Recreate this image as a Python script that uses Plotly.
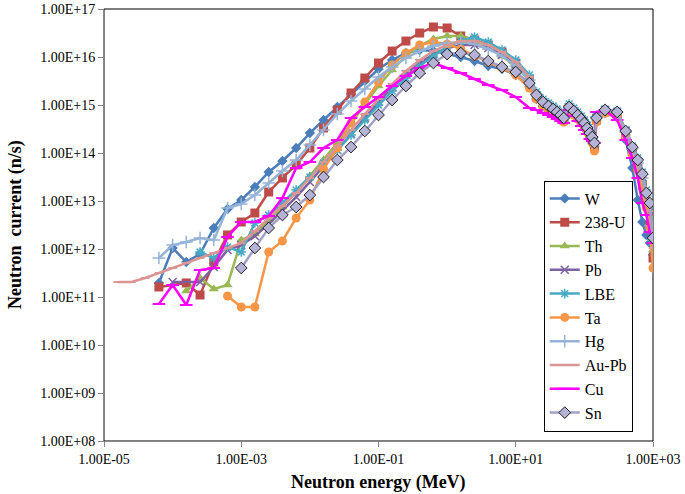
import plotly.graph_objects as go

# Neutron energy grid (MeV)
energy_MeV = [1.58e-5, 2.51e-5, 3.98e-5, 6.31e-5, 1.0e-4, 1.58e-4, 2.51e-4, 3.98e-4, 6.31e-4,
              1.0e-3, 1.58e-3, 2.51e-3, 3.98e-3, 6.31e-3, 1.0e-2, 1.58e-2, 2.51e-2, 3.98e-2,
              6.31e-2, 0.1, 0.158, 0.251, 0.398, 0.631, 1.0, 1.58, 2.51, 3.98, 6.31, 10.0, 15.8,
              20, 25, 30, 35, 40, 45, 50,
              60, 70, 80, 90, 100, 110, 120, 130, 140, 150,
              200, 300, 400, 500, 600, 700, 800, 900, 1000]

N = None
W = [N, N, N, 1.96e11, 1.05e12, 5.36e11, 7.87e11, 2.74e12, 6.81e12, 1.05e13, 1.96e13, 4.02e13,
     6.81e13, 1.27e14, 2.61e14, 4.87e14, 9.09e14, 1.70e15, 3.16e15, 5.62e15, 8.66e15, 1.21e16,
     1.40e16, 1.33e16, 1.15e16, 1.0e16, 8.25e15, 6.49e15, 5.62e15, 4.22e15, 2.37e15,
     1.33e15, 9.53e14, 8.25e14, 7.15e14, 6.19e14, 5.36e14, 4.64e14,
     7.87e14, 6.49e14, 5.36e14, 4.42e14, 3.65e14, 2.87e14, 2.26e14, 1.87e14, 1.40e14, 4.64e14,
     6.81e14, 5.62e14, 1.87e14, 4.87e13, 1.05e13, 3.65e12, 1.96e12, 1.33e12, 7.50e11]

U238 = [N, N, N, 1.62e11, N, 1.96e11, 1.10e11, 5.36e11, 1.96e12, 3.65e12, 5.62e12, 1.54e13,
        3.02e13, 5.62e13, 1.27e14, 3.32e14, 7.87e14, 1.78e15, 3.65e15, 7.50e15, 1.33e16, 2.15e16,
        3.16e16, 4.22e16, 4.02e16, 2.74e16, 2.26e16, 1.78e16, 1.27e16, 7.50e15, 3.32e15,
        1.47e15, 1.05e15, 8.66e14, 7.50e14, 6.49e14, 5.62e14, 4.87e14,
        8.25e14, 6.81e14, 5.62e14, 4.64e14, 3.83e14, 3.02e14, 2.37e14, 1.87e14, 1.33e14, 4.87e14,
        7.15e14, 6.19e14, 2.37e14, 1.05e14, 4.87e13, 2.15e13, 8.25e12, 3.16e12, 6.49e11]

Th = [N, N, N, N, N, 1.33e11, 2.49e11, 1.47e11, 1.78e11, 1.54e12, 2.05e12, 4.02e12, 7.50e12,
      1.54e13, 3.32e13, 7.15e13, 1.62e14, 4.02e14, 1.05e15, 2.49e15, 5.36e15, 1.05e16, 1.70e16,
      2.37e16, 2.74e16, 2.74e16, 2.26e16, 1.62e16, 1.05e16, 6.19e15, 3.32e15,
      1.70e15, 1.21e15, 1.0e15, 8.66e14, 7.50e14, 6.49e14, 5.62e14,
      9.53e14, 7.87e14, 6.49e14, 5.36e14, 4.42e14, 3.48e14, 2.74e14, 2.15e14, 1.54e14, 5.36e14,
      7.50e14, 6.81e14, 2.61e14, 1.15e14, 5.62e13, 2.74e13, 1.15e13, 5.11e12, 9.53e11]

Pb = [N, N, N, N, 2.05e11, N, 2.05e11, 4.22e11, 9.53e11, 1.21e12, 1.87e12, 3.32e12, 6.19e12,
      1.21e13, 2.49e13, 5.36e13, 1.15e14, 2.49e14, 5.36e14, 1.15e15, 2.37e15, 4.42e15, 7.50e15,
      1.15e16, 1.54e16, 1.78e16, 1.78e16, 1.54e16, 1.10e16, 7.15e15, 3.48e15,
      1.62e15, 1.15e15, 9.53e14, 8.25e14, 7.15e14, 6.19e14, 5.36e14,
      9.09e14, 7.50e14, 6.19e14, 5.11e14, 4.22e14, 3.32e14, 2.61e14, 2.15e14, 1.54e14, 5.36e14,
      7.87e14, 7.15e14, 2.87e14, 1.27e14, 6.49e13, 3.16e13, 1.33e13, 6.19e12, 9.53e11]

LBE = [N, N, N, N, N, N, 8.66e11, 6.49e11, 1.10e12, 8.66e11, 3.48e12, 5.11e12, 9.09e12,
       1.70e13, 3.16e13, 6.19e13, 1.15e14, 2.37e14, 4.87e14, 1.0e15, 1.96e15, 3.65e15, 6.49e15,
       1.05e16, 1.62e16, 2.15e16, 2.61e16, 2.05e16, 1.40e16, 8.66e15, 4.22e15,
       1.87e15, 1.33e15, 1.10e15, 9.53e14, 8.25e14, 7.15e14, 6.19e14,
       1.05e15, 8.66e14, 7.15e14, 5.90e14, 4.87e14, 3.83e14, 3.02e14, 2.37e14, 1.78e14, 5.90e14,
       8.25e14, 7.50e14, 3.02e14, 1.40e14, 7.87e13, 4.02e13, 1.70e13, 8.25e12, 1.21e12]

Ta = [N, N, N, N, N, N, N, N, 1.05e11, 6.19e10, 6.19e10, 8.66e11, 1.47e12, 4.42e12, 1.05e13,
      4.64e13, 1.27e14, 4.22e14, 1.15e15, 3.02e15, 6.81e15, 1.21e16, 1.78e16, 2.05e16, 1.87e16,
      1.47e16, 1.05e16, 7.87e15, 5.90e15, 4.22e15, 2.26e15,
      1.33e15, 9.53e14, 7.87e14, 6.81e14, 5.90e14, 5.11e14, 4.42e14,
      7.50e14, 6.19e14, 5.11e14, 4.22e14, 3.48e14, 2.74e14, 2.05e14, 1.62e14, 1.10e14, 4.42e14,
      6.81e14, 5.62e14, 2.15e14, 9.09e13, 4.42e13, 1.87e13, 7.15e12, 2.74e12, 4.02e11]

Hg = [N, N, N, 6.49e11, 1.21e12, 1.40e12, 1.70e12, 1.54e12, 7.15e12, 8.66e12, 1.33e13, 2.37e13,
      4.22e13, 7.15e13, 1.47e14, 3.02e14, 6.49e14, 1.21e15, 2.15e15, 3.83e15, 6.19e15, 9.53e15,
      1.33e16, 1.70e16, 1.96e16, 2.05e16, 1.87e16, 1.47e16, 1.05e16, 6.49e15, 3.32e15,
      1.70e15, 1.21e15, 1.0e15, 8.66e14, 7.50e14, 6.49e14, 5.62e14,
      9.53e14, 7.87e14, 6.49e14, 5.36e14, 4.42e14, 3.48e14, 2.74e14, 2.15e14, 1.62e14, 5.62e14,
      7.87e14, 7.15e14, 2.74e14, 1.21e14, 6.19e13, 3.02e13, 1.27e13, 6.19e12, 1.54e12]

AuPb = [2.05e11, 2.05e11, 2.49e11, 3.16e11, 4.02e11, 5.11e11, 6.49e11, 8.25e11, 1.05e12, 1.33e12,
        2.37e12, 4.42e12, 7.87e12, 1.47e13, 3.02e13, 6.49e13, 1.40e14, 3.02e14, 6.49e14, 1.33e15,
        2.74e15, 5.11e15, 8.66e15, 1.33e16, 1.78e16, 2.15e16, 2.15e16, 1.78e16, 1.27e16, 7.87e15,
        3.83e15,
        1.62e15, 1.15e15, 9.53e14, 8.25e14, 7.15e14, 6.19e14, 5.36e14,
        9.09e14, 7.50e14, 6.19e14, 5.11e14, 4.22e14, 3.32e14, 2.61e14, 2.15e14, 1.62e14, 5.36e14,
        7.87e14, 7.15e14, 2.87e14, 1.27e14, 6.49e13, 3.16e13, 1.33e13, 6.19e12, 1.05e12]

Cu = [N, N, N, 7.15e10, 1.78e11, 6.81e10, 3.65e11, 4.02e11, 1.78e12, 3.65e12, 3.65e12, 4.87e12,
      1.15e13, 4.87e13, 6.49e13, 1.27e14, 1.87e14, 5.36e14, 9.09e14, 1.47e15, 2.49e15, 4.02e15,
      5.90e15, 7.50e15, 5.90e15, 4.64e15, 3.48e15, 2.61e15, 2.05e15, 1.47e15, 8.66e14,
      7.87e14, 6.81e14, 6.19e14, 5.62e14, 5.11e14, 4.64e14, 4.22e14,
      7.87e14, 5.90e14, 4.64e14, 3.65e14, 3.02e14, 2.49e14, 1.96e14, 1.78e14, 1.62e14, 7.15e14,
      7.87e14, 4.87e14, 1.87e14, 7.87e13, 3.02e13, 9.09e12, 5.11e12, 2.26e12, 1.33e12]

Sn = [N, N, N, N, N, N, N, N, N, 4.02e11, 1.05e12, 2.74e12, 5.11e12, 7.50e12, 1.33e13, 3.16e13,
      7.15e13, 1.33e14, 2.87e14, 6.19e14, 1.27e15, 2.49e15, 4.64e15, 7.50e15, 1.15e16, 1.21e16,
      1.10e16, 8.25e15, 6.19e15, 4.87e15, 2.87e15,
      1.62e15, 1.15e15, 9.53e14, 8.25e14, 7.15e14, 6.19e14, 5.36e14,
      9.09e14, 7.50e14, 6.19e14, 5.11e14, 4.22e14, 3.32e14, 2.61e14, 2.15e14, 1.62e14, 5.36e14,
      7.87e14, 7.15e14, 2.87e14, 1.33e14, 7.15e13, 3.65e13, 1.47e13, 9.09e12, 1.70e12]

x_tick_vals = [1e-5, 1e-3, 1e-1, 1e1, 1e3]
x_tick_text = ["1.00E-05", "1.00E-03", "1.00E-01", "1.00E+01", "1.00E+03"]
y_tick_vals = [1e8, 1e9, 1e10, 1e11, 1e12, 1e13, 1e14, 1e15, 1e16, 1e17]
y_tick_text = ["1.00E+08", "1.00E+09", "1.00E+10", "1.00E+11", "1.00E+12",
               "1.00E+13", "1.00E+14", "1.00E+15", "1.00E+16", "1.00E+17"]

series = [
    ("W", W, "#4A7EBB", dict(symbol="diamond", size=8, color="#4A7EBB")),
    ("238-U", U238, "#BE4B48", dict(symbol="square", size=9, color="#BE4B48")),
    ("Th", Th, "#98B954", dict(symbol="triangle-up", size=9, color="#98B954")),
    ("Pb", Pb, "#7D60A0", dict(symbol="x-thin", size=8, color="#7D60A0",
                               line=dict(color="#7D60A0", width=1.5))),
    ("LBE", LBE, "#46AAC5", dict(symbol="asterisk", size=8, color="#46AAC5",
                                 line=dict(color="#46AAC5", width=1.5))),
    ("Ta", Ta, "#F79646", dict(symbol="circle", size=9, color="#F79646")),
    ("Hg", Hg, "#95B3D7", dict(symbol="cross-thin", size=9, color="#95B3D7",
                               line=dict(color="#95B3D7", width=1.5))),
    ("Au-Pb", AuPb, "#D99694", dict(symbol="line-ew", size=6, color="#D99694",
                                    line=dict(color="#D99694", width=2))),
    ("Cu", Cu, "#FF00FF", dict(symbol="line-ew", size=9, color="#FF00FF",
                               line=dict(color="#FF00FF", width=2))),
    ("Sn", Sn, "#A3A0C6", dict(symbol="diamond", size=9, color="#B4B2D6",
                               line=dict(color="#202020", width=1))),
]

fig = go.Figure()
for name, vals, col, mk in series:
    fig.add_trace(go.Scatter(
        x=energy_MeV, y=vals, name=name, mode="lines+markers",
        connectgaps=True, line=dict(color=col, width=2.5), marker=mk,
        legendgroup=name,
    ))

serif = "Liberation Serif"
fig.update_layout(
    width=685, height=494,
    margin=dict(l=104, r=32, t=9, b=53, autoexpand=False),
    paper_bgcolor="white", plot_bgcolor="white",
    font=dict(family=serif, color="black", size=14),
    showlegend=True,
    legend=dict(x=0.801, y=0.603, xanchor="left", yanchor="top",
                bgcolor="white", bordercolor="black", borderwidth=1,
                font=dict(family=serif, size=16, color="black"),
                tracegroupgap=0, itemwidth=30),
    xaxis=dict(type="log", range=[-5, 3], tickvals=x_tick_vals, ticktext=x_tick_text,
               ticks="outside", ticklen=5, tickcolor="#868686", showline=True,
               linecolor="#868686", linewidth=1, showgrid=False, zeroline=False,
               automargin=False, tickfont=dict(family=serif, size=14)),
    yaxis=dict(type="log", range=[8, 17], tickvals=y_tick_vals, ticktext=y_tick_text,
               ticks="outside", ticklen=5, tickcolor="#868686", showline=True,
               linecolor="#868686", linewidth=1, showgrid=False, zeroline=False,
               automargin=False, tickfont=dict(family=serif, size=14)),
    shapes=[dict(type="rect", xref="paper", yref="paper", x0=0, y0=0, x1=1, y1=1,
                 line=dict(color="black", width=1), layer="below")],
    annotations=[
        dict(text="<b>Neutron energy (MeV)</b>", xref="paper", yref="paper",
             x=0.5, y=-0.095, xanchor="center", yanchor="middle", showarrow=False,
             font=dict(family=serif, size=18, color="black")),
        dict(text="<b>Neutron  current (n/s)</b>", xref="paper", yref="paper",
             x=-0.162, y=0.5, xanchor="center", yanchor="middle", showarrow=False,
             textangle=-90, font=dict(family=serif, size=18, color="black")),
    ],
)

fig.write_html("out.html", config={"displayModeBar": False},
               post_script="document.body.style.margin='0px';")
